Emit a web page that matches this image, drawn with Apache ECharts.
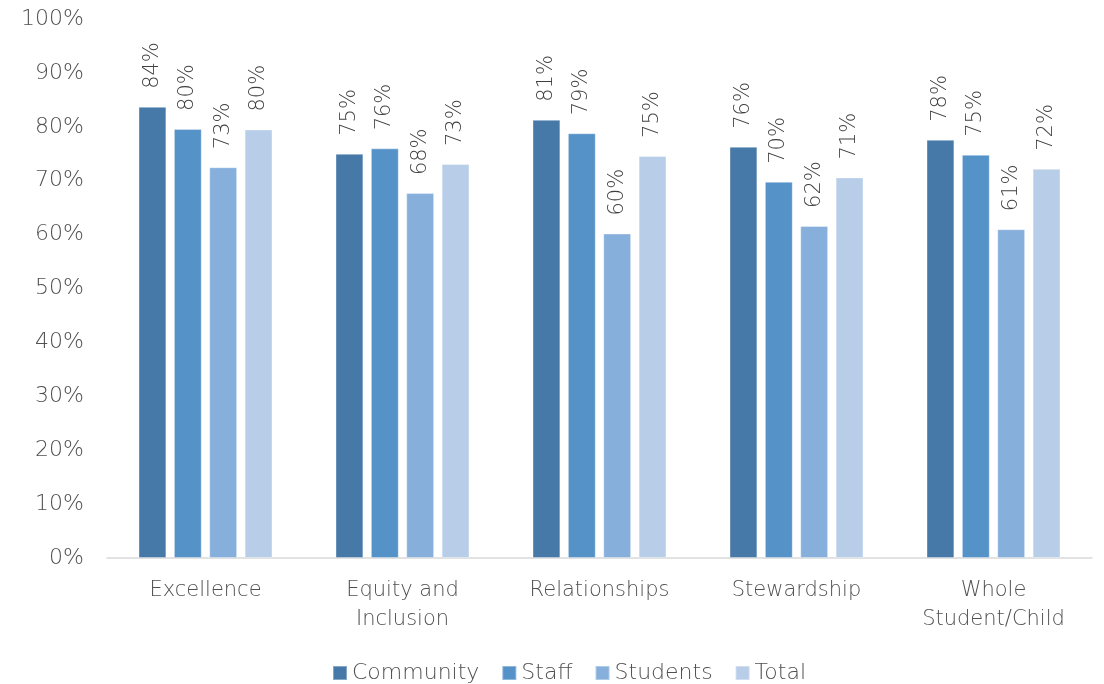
<!DOCTYPE html>
<html>
<head>
<meta charset="utf-8">
<script src="https://cdn.jsdelivr.net/npm/echarts@6/dist/echarts.min.js"></script>
<style>
  html, body { margin: 0; padding: 0; background: #fff; }
  #main { width: 1104px; height: 684px; }
</style>
</head>
<body>
<div id="main"></div>
<script>
// categories and series (percent values)
var categories = ['Excellence', 'Equity and\nInclusion', 'Relationships', 'Stewardship', 'Whole\nStudent/Child'];
var seriesNames = ['Community', 'Staff', 'Students', 'Total'];
var community = [83.7, 75.0, 81.3, 76.3, 77.6];
var staff = [79.6, 76.0, 78.8, 69.8, 74.8];
var students = [72.5, 67.7, 60.2, 61.6, 61.0];
var total = [79.5, 73.1, 74.6, 70.6, 72.2];
var colors = ['#4678a8', '#5592c8', '#86afdc', '#b7cde8'];

var font = '"DejaVu Sans", "Liberation Sans", sans-serif';
var myChart = echarts.init(document.getElementById('main'));

function makeSeries(name, data, i) {
    return {
        name: name,
        type: 'bar',
        data: data,
        barGap: '27%',
        barCategoryGap: '32%',
        itemStyle: {
            color: colors[i],
            borderColor: 'rgba(255,255,255,0.35)',
            borderWidth: 1
        },
        label: {
            show: true,
            position: 'top',
            rotate: 90,
            align: 'left',
            verticalAlign: 'middle',
            distance: 18,
            fontFamily: font,
            fontSize: 21,
            fontWeight: 200,
            color: '#3f3f3f',
            formatter: function (p) {
                return Math.round(p.value) + '%';
            }
        }
    };
}

var option = {
    animation: false,
    color: colors,
    grid: {
        left: 107,
        right: 12,
        top: 19,
        bottom: 126
    },
    legend: {
        top: 657,
        left: 327,
        itemWidth: 14,
        itemHeight: 14,
        itemGap: 22,
        icon: 'rect',
        textStyle: {
            fontFamily: font,
            fontSize: 22,
            fontWeight: 200,
            color: '#505050'
        },
        data: seriesNames
    },
    xAxis: {
        type: 'category',
        data: categories,
        axisLine: { lineStyle: { color: '#d9d9d9', width: 1.5 } },
        axisTick: { show: false },
        axisLabel: {
            margin: 18,
            fontFamily: font,
            fontSize: 21,
            fontWeight: 200,
            lineHeight: 29,
            color: '#505050'
        }
    },
    yAxis: {
        type: 'value',
        min: 0,
        max: 100,
        interval: 10,
        axisLine: { show: false },
        axisTick: { show: false },
        splitLine: { show: false },
        axisLabel: {
            margin: 23,
            fontFamily: font,
            fontSize: 22,
            fontWeight: 200,
            color: '#505050',
            formatter: '{value}%'
        }
    },
    series: [
        makeSeries('Community', community, 0),
        makeSeries('Staff', staff, 1),
        makeSeries('Students', students, 2),
        makeSeries('Total', total, 3)
    ]
};
myChart.setOption(option);
</script>
</body>
</html>
